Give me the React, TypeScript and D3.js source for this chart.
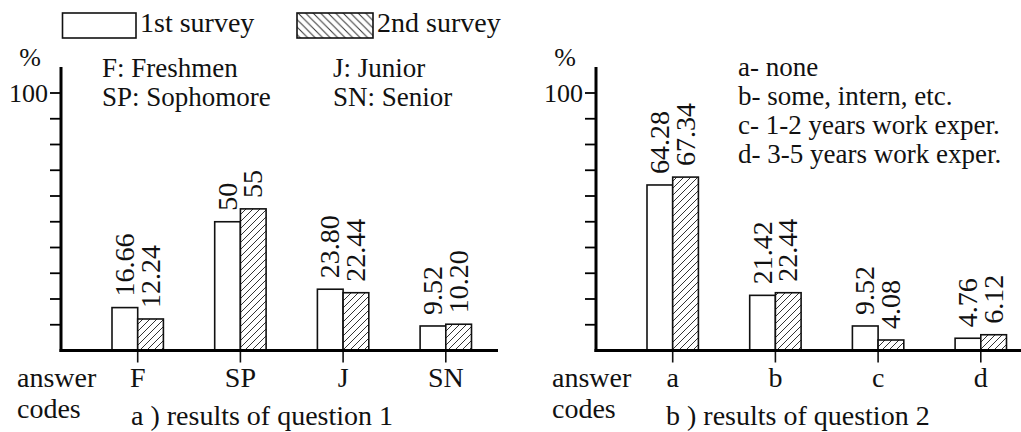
import React from "react";
import * as d3 from "d3";

// ---- data ----
const categoriesQ1 = ["F", "SP", "J", "SN"];
const firstSurveyQ1 = [16.66, 50, 23.8, 9.52];
const secondSurveyQ1 = [12.24, 55, 22.44, 10.2];
const firstLabelsQ1 = ["16.66", "50", "23.80", "9.52"];
const secondLabelsQ1 = ["12.24", "55", "22.44", "10.20"];

const categoriesQ2 = ["a", "b", "c", "d"];
const firstSurveyQ2 = [64.28, 21.42, 9.52, 4.76];
const secondSurveyQ2 = [67.34, 22.44, 4.08, 6.12];
const firstLabelsQ2 = ["64.28", "21.42", "9.52", "4.76"];
const secondLabelsQ2 = ["67.34", "22.44", "4.08", "6.12"];

const yTicks = [10, 20, 30, 40, 50, 60, 70, 80, 90, 100];
const yTickLabels = ["100"];

const notesQ1 = [
  ["F: Freshmen", "SP: Sophomore"],
  ["J: Junior", "SN: Senior"],
];
const notesQ2 = [
  "a- none",
  "b- some, intern, etc.",
  "c- 1-2 years work exper.",
  "d- 3-5 years work exper.",
];
const legendLabels = ["1st survey", "2nd survey"];
const titles = ["a ) results of question 1", "b ) results of question 2"];

const FONT = "Liberation Serif, DejaVu Serif";
const FS = 28;

const y = d3.scaleLinear().domain([0, 100]).range([350.5, 93]);
const BW = 25.7;

function Panel(props: {
  ox: number;
  axisEnd: number;
  cats: string[];
  s1: number[];
  s2: number[];
  l1: string[];
  l2: string[];
  title: string;
}) {
  const { ox, axisEnd, cats, s1, s2, l1, l2, title } = props;
  const ax = 61 + ox;
  const x = d3
    .scalePoint<string>()
    .domain(cats)
    .range([ax + 76.7, ax + 76.7 + 3 * 102.7]);
  const base = y(0);
  return (
    <g>
      {cats.map((c, i) => {
        const cx = x(c) as number;
        return (
          <g key={c}>
            <rect
              x={cx - BW}
              y={y(s1[i])}
              width={BW}
              height={base - y(s1[i])}
              fill="#fff"
              stroke="#111"
              strokeWidth={1.6}
            />
            <rect
              x={cx}
              y={y(s2[i])}
              width={BW}
              height={base - y(s2[i])}
              fill="url(#hatchBar)"
              stroke="#111"
              strokeWidth={1.6}
            />
            <text
              transform={`translate(${cx - BW / 2 + 9},${y(s1[i]) - 11}) rotate(-90)`}
              fontSize={FS}
              fontFamily={FONT}
              fill="#111"
            >
              {l1[i]}
            </text>
            <text
              transform={`translate(${cx + BW / 2 + 9},${y(s2[i]) - 11}) rotate(-90)`}
              fontSize={FS}
              fontFamily={FONT}
              fill="#111"
            >
              {l2[i]}
            </text>
            <line x1={cx} x2={cx} y1={base} y2={base + 12} stroke="#111" strokeWidth={1.6} />
            <text x={cx} y={387} textAnchor="middle" fontSize={FS} fontFamily={FONT} fill="#111">
              {c}
            </text>
          </g>
        );
      })}
      <line x1={ax} x2={ax} y1={67} y2={base + 1.5} stroke="#000" strokeWidth={3} />
      {yTicks.map((t) => (
        <line key={t} x1={ax - 11} x2={ax} y1={y(t)} y2={y(t)} stroke="#000" strokeWidth={1.8} />
      ))}
      {yTickLabels.map((t) => (
        <text
          key={t}
          x={ax - 13}
          y={y(+t) + 9}
          textAnchor="end"
          fontSize={FS - 2}
          fontFamily={FONT}
          fill="#111"
        >
          {t}
        </text>
      ))}
      <text x={ax - 31} y={66} textAnchor="middle" fontSize={FS - 2} fontFamily={FONT} fill="#111">
        %
      </text>
      <line x1={ax - 1.5} x2={axisEnd} y1={base} y2={base} stroke="#000" strokeWidth={3} />
      <text x={ax - 44} y={387} fontSize={FS} fontFamily={FONT} fill="#111">
        answer
      </text>
      <text x={ax - 44} y={418} fontSize={FS} fontFamily={FONT} fill="#111">
        codes
      </text>
      <text x={ax + 70} y={425} fontSize={FS} fontFamily={FONT} fill="#111">
        {title}
      </text>
    </g>
  );
}

export default function App() {
  return (
    <svg width={1021} height={432} style={{ position: "absolute", left: 0, top: 0, background: "#fff" }}>
      <defs>
        <pattern id="hatchBar" patternUnits="userSpaceOnUse" width={7} height={7}>
          <rect width={7} height={7} fill="#fff" />
          <path d="M-1,1 L1,-1 M0,7 L7,0 M6,8 L8,6" stroke="#333" strokeWidth={1} />
        </pattern>
        <pattern id="hatchLegend" patternUnits="userSpaceOnUse" width={7.5} height={7.5}>
          <rect width={7.5} height={7.5} fill="#fff" />
          <path d="M-1,6.5 L1,8.5 M0,0 L7.5,7.5 M6.5,-1 L8.5,1" stroke="#333" strokeWidth={1} />
        </pattern>
      </defs>
      <rect width={1021} height={432} fill="#fff" />
      <rect x={62.5} y={13} width={73.5} height={25} fill="#fff" stroke="#111" strokeWidth={1.6} />
      <text x={140} y={32} fontSize={FS} fontFamily={FONT} fill="#111">
        {legendLabels[0]}
      </text>
      <rect x={297} y={13} width={76} height={25} fill="url(#hatchLegend)" stroke="#111" strokeWidth={1.6} />
      <text x={377} y={32} fontSize={FS} fontFamily={FONT} fill="#111">
        {legendLabels[1]}
      </text>
      {notesQ1.map((col, ci) =>
        col.map((t, ri) => (
          <text key={t} x={ci === 0 ? 102 : 333} y={77 + ri * 29} fontSize={FS - 1} fontFamily={FONT} fill="#111">
            {t}
          </text>
        ))
      )}
      {notesQ2.map((t, i) => (
        <text key={t} x={738} y={76 + i * 29} fontSize={FS - 1} fontFamily={FONT} fill="#111">
          {t}
        </text>
      ))}
      <Panel
        ox={0}
        axisEnd={498}
        cats={categoriesQ1}
        s1={firstSurveyQ1}
        s2={secondSurveyQ1}
        l1={firstLabelsQ1}
        l2={secondLabelsQ1}
        title={titles[0]}
      />
      <Panel
        ox={535}
        axisEnd={1025}
        cats={categoriesQ2}
        s1={firstSurveyQ2}
        s2={secondSurveyQ2}
        l1={firstLabelsQ2}
        l2={secondLabelsQ2}
        title={titles[1]}
      />
    </svg>
  );
}
